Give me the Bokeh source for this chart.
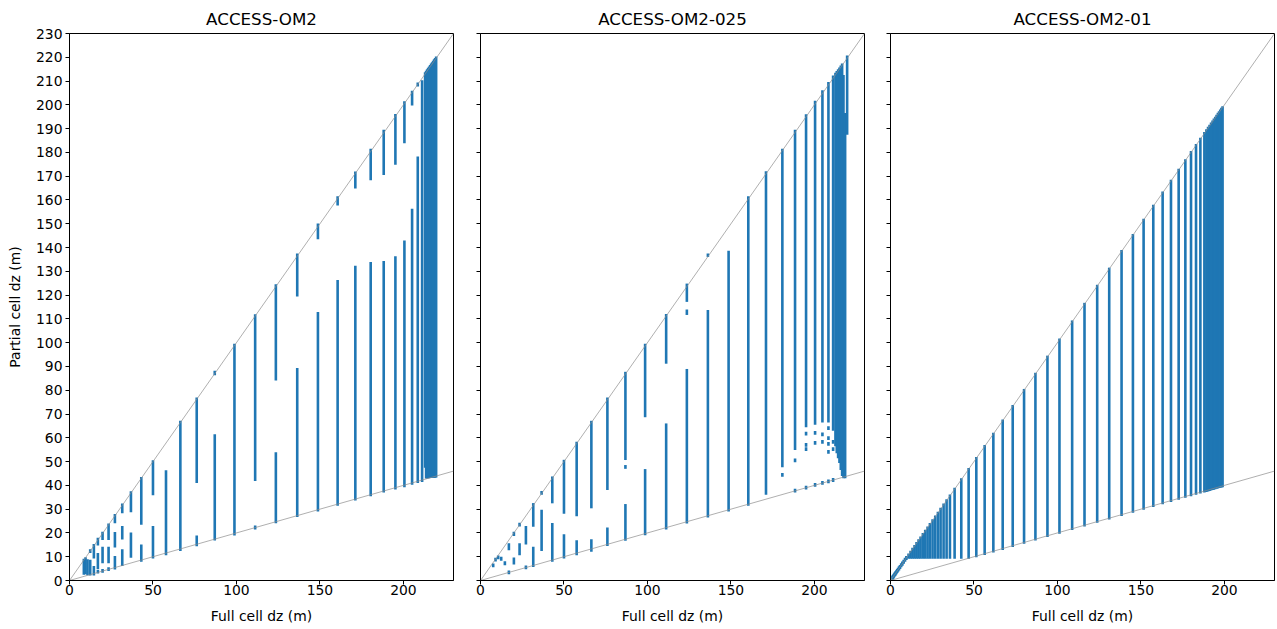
from bokeh.plotting import figure
from bokeh.models import Range1d, FixedTicker
from bokeh.layouts import row
from bokeh.embed import file_html
from bokeh.resources import INLINE

# ---------------- data ----------------
titles = ["ACCESS-OM2", "ACCESS-OM2-025", "ACCESS-OM2-01"]
x_ticks = [0, 50, 100, 150, 200]
y_ticks = [0, 10, 20, 30, 40, 50, 60, 70, 80, 90, 100, 110, 120, 130, 140,
           150, 160, 170, 180, 190, 200, 210, 220, 230]
x_label = "Full cell dz (m)"
y_label = "Partial cell dz (m)"

# reference lines: partial = full, partial = 0.2 * full
ref_x = [0, 230]
ref_upper_y = [0, 230]
ref_lower_y = [0, 46]

# ACCESS-OM2: full cell dz, partial cell dz range (low, high)
om2_x = [8.6, 9.6, 10.8, 12.4, 12.4, 14.6, 14.6, 17.0, 17.0, 17.0,
         19.8, 19.8, 19.8, 23.4, 23.4, 23.4, 27.2, 27.2, 27.2,
         31.6, 31.6, 31.6, 36.8, 36.8, 43.0, 43.0, 50.0, 50.0,
         57.8, 66.4, 76.2, 76.2, 87.0, 87.0, 98.8, 111.2, 111.2,
         123.6, 123.6, 136.4, 136.4, 148.8, 148.8, 160.6, 160.6,
         171.2, 171.2, 180.4, 180.4, 188.2, 188.2, 195.2, 195.2,
         200.6, 200.6, 205.2, 205.2, 208.6, 208.6, 211.2,
         213.0, 213.6, 214.2, 214.8, 215.4, 216.0, 216.6, 217.2, 217.8,
         218.4, 219.0, 219.6]
om2_lo = [3.0, 3.2, 2.8, 2.6, 12.1, 9.8, 2.6, 15.3, 5.4, 3.5,
          17.6, 7.8, 3.8, 17.6, 7.8, 4.5, 24.6, 14.4, 5.2,
          28.8, 17.8, 6.6, 29.2, 10.1, 24.0, 8.4, 36.4, 9.8,
          11.2, 13.0, 41.5, 15.0, 86.9, 17.4, 19.5, 42.4, 22.0,
          84.6, 24.6, 120.0, 27.2, 144.0, 29.6, 158.2, 32.0,
          165.4, 34.2, 168.8, 36.0, 171.0, 37.6, 175.4, 38.8,
          184.4, 39.8, 200.3, 40.8, 208.3, 41.5, 42.0,
          48.0, 43.4, 43.4, 43.5, 43.5, 43.6, 43.6, 43.7, 43.7,
          43.8, 43.8, 43.9]
om2_hi = [8.6, 9.2, 8.4, 8.2, 12.6, 14.8, 5.6, 17.4, 11.0, 4.0,
          20.0, 13.6, 4.3, 23.4, 13.6, 5.0, 27.4, 19.8, 9.8,
          31.8, 22.4, 12.6, 37.0, 19.6, 43.0, 14.6, 50.0, 22.4,
          45.8, 66.6, 76.4, 18.4, 87.6, 61.0, 99.0, 111.4, 22.6,
          124.0, 53.4, 137.0, 88.8, 149.6, 112.4, 161.0, 125.8,
          171.4, 131.8, 181.0, 133.4, 189.0, 133.8, 195.6, 135.8,
          201.0, 142.4, 205.4, 155.8, 208.9, 177.7, 209.8,
          213.2, 213.8, 214.4, 215.0, 215.6, 216.2, 216.8, 217.4, 218.0,
          218.6, 219.2, 219.8]

# ACCESS-OM2-025
om025_x = [7.6, 9.0, 10.6, 12.4, 14.6, 17.0, 17.0, 20.0, 20.0, 23.4, 23.4,
           27.2, 27.2, 31.6, 31.6, 36.6, 36.6, 43.0, 43.0, 50.0, 50.0,
           57.6, 57.6, 66.4, 66.4, 76.0, 76.0, 86.8, 86.8, 86.8,
           98.6, 98.6, 111.2, 111.2, 123.6, 123.6, 123.6, 136.2, 136.2,
           148.6, 160.4, 171.0, 180.8, 180.8, 188.4, 188.4, 188.4,
           195.0, 195.0, 195.0, 195.0, 195.0,
           200.4, 200.4, 200.4, 200.4,
           204.8, 204.8, 204.8, 204.8,
           208.4, 208.4, 208.4, 208.4, 208.4, 208.4,
           211.2, 211.2, 211.2, 211.2,
           212.6, 213.4, 214.2, 215.0, 215.8, 216.6, 217.4, 218.4, 219.6]
om025_lo = [6.1, 8.5, 9.5, 8.9, 7.0, 3.2, 13.3, 19.3, 7.3, 23.2, 11.2,
            5.3, 15.7, 23.1, 6.2, 36.6, 12.9, 33.0, 8.4, 28.6, 9.8,
            27.6, 11.2, 30.9, 12.6, 38.6, 15.1, 51.2, 47.5, 17.3,
            69.2, 19.6, 91.7, 22.0, 117.7, 112.2, 24.5, 136.6, 27.0,
            29.6, 32.0, 36.6, 48.2, 44.2, 55.4, 50.3, 37.6,
            65.0, 61.5, 56.8, 55.0, 38.8,
            66.0, 61.8, 57.6, 40.0,
            67.0, 61.2, 58.0, 40.8,
            67.0, 63.8, 59.6, 57.2, 53.8, 41.4,
            63.5, 58.0, 55.0, 42.0,
            57.0, 54.0, 52.0, 50.0, 47.0, 44.5, 43.5, 43.5, 188.0]
om025_hi = [6.6, 9.0, 10.0, 9.4, 7.6, 3.7, 15.1, 19.9, 9.1, 23.7, 15.1,
            5.8, 22.4, 32.0, 13.6, 37.1, 29.2, 43.2, 23.6, 50.2, 18.9,
            57.8, 16.4, 66.6, 16.8, 76.4, 21.7, 87.2, 48.0, 31.6,
            99.0, 46.3, 111.5, 65.5, 124.3, 113.4, 88.4, 137.0, 113.2,
            138.1, 161.0, 171.5, 181.0, 44.7, 189.0, 50.8, 38.0,
            195.5, 62.0, 57.3, 55.5, 39.3,
            201.2, 62.3, 58.1, 40.4,
            205.6, 61.7, 58.5, 41.3,
            209.1, 64.3, 60.1, 57.7, 54.3, 41.9,
            211.8, 58.5, 55.5, 42.5,
            212.9, 213.7, 214.4, 215.2, 216.0, 216.8, 212.0, 196.0, 220.2]

# ACCESS-OM2-01
om01_x = [1.2, 1.5, 1.8, 2.2, 2.6, 3.0, 3.5, 4.0, 4.5, 5.1, 5.7, 6.4, 7.1,
          7.9, 8.7, 9.5,
          10.8, 12.0, 13.2, 14.4, 15.6, 16.8, 18.0, 19.4, 20.8, 22.2, 23.6,
          25.2, 26.8, 28.4, 30.0, 31.8, 33.6, 35.6, 38.4, 42.4, 46.8,
          51.4, 56.4, 61.6, 67.2, 73.2, 80.0, 86.8, 94.0, 101.2, 108.8,
          116.2, 123.8, 131.0, 138.4, 145.2, 151.6, 157.4, 163.0, 168.0,
          172.6, 176.6, 180.0, 183.0, 185.6, 188.0,
          189.2, 190.2, 191.1, 192.0, 192.9, 193.7, 194.5, 195.3, 196.1,
          196.8, 197.5, 198.2, 198.9]
om01_lo = [0.9, 1.2, 1.5, 1.9, 2.3, 2.7, 3.2, 3.7, 4.2, 4.8, 5.4, 6.1, 6.8,
           7.6, 8.4, 9.2,
           9.7, 9.7, 9.7, 9.7, 9.7, 9.7, 9.7, 9.7, 9.7, 9.7, 9.7,
           9.7, 9.7, 9.7, 9.7, 9.7, 9.7, 9.7, 9.7, 9.7, 9.7,
           10.3, 11.3, 12.3, 13.4, 14.6, 16.0, 17.4, 18.8, 20.2, 21.8,
           23.2, 24.8, 26.2, 27.7, 29.0, 30.3, 31.5, 32.6, 33.6,
           34.5, 35.3, 36.0, 36.6, 37.1, 37.6,
           37.8, 38.0, 38.2, 38.4, 38.6, 38.7, 38.9, 39.1, 39.2,
           39.4, 39.5, 39.6, 39.8]
om01_hi = [1.5, 1.8, 2.1, 2.5, 2.9, 3.3, 3.8, 4.3, 4.8, 5.4, 6.0, 6.7, 7.4,
           8.2, 9.0, 9.8,
           10.8, 12.0, 13.2, 14.4, 15.6, 16.8, 18.0, 19.4, 20.8, 22.2, 23.6,
           25.2, 26.8, 28.4, 30.0, 31.8, 33.6, 35.6, 38.4, 42.4, 46.8,
           51.4, 56.4, 61.6, 67.2, 73.2, 80.0, 86.8, 94.0, 101.2, 108.8,
           116.2, 123.8, 131.0, 138.4, 145.2, 151.6, 157.4, 163.0, 168.0,
           172.6, 176.6, 180.0, 183.0, 185.6, 188.0,
           189.2, 190.2, 191.1, 192.0, 192.9, 193.7, 194.5, 195.3, 196.1,
           196.8, 197.5, 198.2, 198.9]

# ---------------- styling ----------------
FONT = "DejaVu Sans"
BLUE = "#1f77b4"
H = 627


def make_panel(title, xs, lo, hi, width, b_left, b_right, first):
    p = figure(width=width, height=H,
               x_range=Range1d(0, 230), y_range=Range1d(0, 230),
               output_backend="svg", toolbar_location=None,
               min_border_left=b_left, min_border_right=b_right,
               min_border_top=33, min_border_bottom=47)
    p.grid.visible = False
    p.background_fill_color = "white"
    p.border_fill_color = "white"
    p.outline_line_color = "black"
    p.outline_line_alpha = 1.0
    p.outline_line_width = 1

    p.title.text = title
    p.title.align = "center"
    p.title.text_font = FONT
    p.title.text_font_size = "16.7px"
    p.title.text_font_style = "normal"
    p.title.text_color = "black"
    p.title.standoff = 9

    p.segment(x0=xs, y0=lo, x1=xs, y1=hi, line_width=2.6,
              line_color=BLUE, line_cap="square")
    p.line(ref_x, ref_upper_y, line_color="#8c8c8c", line_width=0.7)
    p.line(ref_x, ref_lower_y, line_color="#8c8c8c", line_width=0.7)

    p.xaxis.ticker = FixedTicker(ticks=x_ticks)
    p.yaxis.ticker = FixedTicker(ticks=y_ticks)
    for ax in p.axis:
        ax.axis_line_color = "black"
        ax.major_tick_line_color = "black"
        ax.minor_tick_line_color = None
        ax.major_tick_in = 0
        ax.major_tick_out = 4
        ax.major_label_text_font = FONT
        ax.major_label_text_font_size = "13.9px"
        ax.major_label_text_color = "black"
        ax.major_label_standoff = 0
        ax.axis_label_text_font = FONT
        ax.axis_label_text_font_size = "13.9px"
        ax.axis_label_text_font_style = "normal"
        ax.axis_label_text_color = "black"
        ax.axis_label_standoff = 10
    p.xaxis.axis_label = x_label
    if first:
        p.yaxis.axis_label = y_label
        p.yaxis.axis_label_standoff = 10
        p.yaxis.major_label_standoff = 3
    else:
        p.yaxis.major_label_overrides = {t: "" for t in y_ticks}
    return p


p1 = make_panel(titles[0], om2_x, om2_lo, om2_hi, 461, 69, 8, True)
p2 = make_panel(titles[1], om025_x, om025_lo, om025_hi, 410, 19, 7, False)
p3 = make_panel(titles[2], om01_x, om01_lo, om01_hi, 405, 19, 2, False)

layout = row(p1, p2, p3)
open("out.html", "w").write(file_html(layout, INLINE))
